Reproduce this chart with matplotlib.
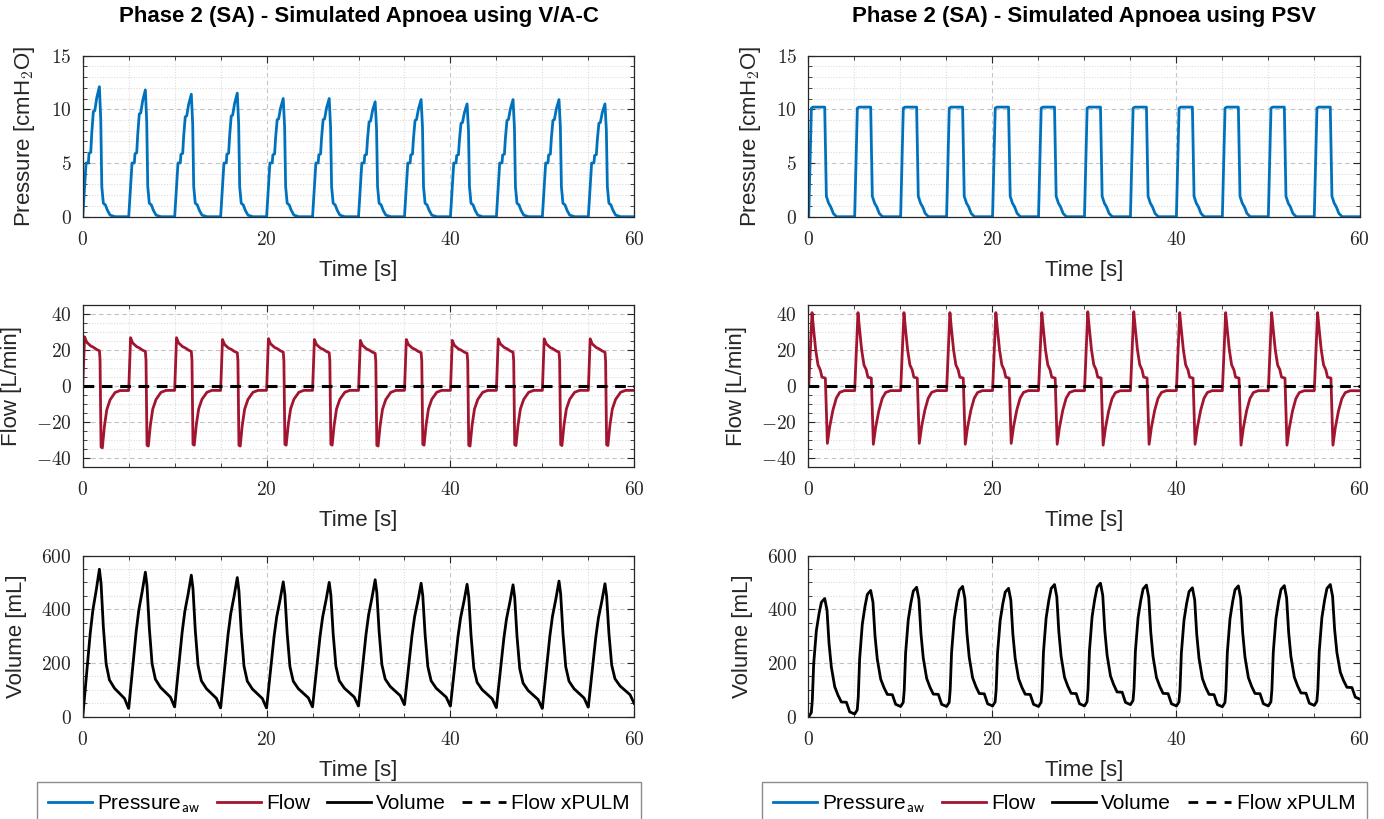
import numpy as np
import matplotlib
matplotlib.use("Agg")
import matplotlib.pyplot as plt
from matplotlib.ticker import MultipleLocator, FuncFormatter
from matplotlib.lines import Line2D

plt.rcParams['font.family'] = ['Liberation Sans', 'DejaVu Sans']
plt.rcParams['mathtext.fontset'] = 'cm'

# ---------------- data ----------------
# breath onsets [s]
onset_vc = [0.0, 5.0, 10.0, 15.0, 20.0, 25.0, 30.0, 35.0, 40.0, 45.0, 50.0, 55.0]
onset_psv = [0.05, 5.05, 10.05, 15.05, 20.05, 25.05, 30.05, 35.05, 40.05, 45.05, 50.05, 55.05]

# one breath of V/A-C, time since onset [s]
vc_p_t = [0, 0.36, 0.61, 0.68, 0.87, 0.98, 1.15, 1.31, 1.52, 1.81, 1.96, 2.07, 2.24, 2.46, 2.68, 2.97, 3.51, 4.98]
vc_p_v = [0, 5.0, 5.0, 5.9, 6.0, 7.8, 9.8, 9.9, 11.1, 12.15, 9.0, 2.8, 1.25, 1.1, 0.6, 0.15, 0, 0]
vc_f_t = [0, 0.2, 0.43, 0.87, 1.15, 1.52, 1.81, 1.88, 1.99, 2.13, 2.35, 2.61, 2.97, 3.51, 4.05, 4.95]
vc_f_v = [-2.5, 27.5, 24.5, 22.4, 21.7, 20.4, 19.7, 14.8, -34.0, -34.5, -22.7, -13.3, -7.7, -3.6, -2.5, -2.5]
vc_v_t = [0, 0.31, 0.56, 0.81, 1.10, 1.47, 1.81, 1.99, 2.24, 2.54, 2.90, 3.45, 4.00, 4.54, 4.98]
vc_v_v = [0, 118, 211, 310, 397, 472, 549, 496, 334, 197, 137, 106, 87, 68, 31]

# one breath of PSV
psv_p_t = [0, 0.29, 0.47, 1.74, 1.92, 2.17, 2.39, 2.68, 3.04, 4.98]
psv_p_v = [0, 10.1, 10.2, 10.2, 1.9, 1.25, 0.93, 0.3, 0, 0]
psv_f_t = [0, 0.36, 0.54, 0.76, 1.01, 1.26, 1.44, 1.81, 2.03, 2.28, 2.64, 3.00, 3.37, 3.90, 4.95]
psv_f_v = [-2.5, 41.3, 31.5, 20.3, 11.9, 9.1, 5.0, 4.5, -31.8, -22.6, -13.2, -6.7, -3.5, -2.5, -2.5]
psv_v_t = [0, 0.28, 0.39, 0.54, 0.83, 1.12, 1.38, 1.74, 1.99, 2.21, 2.46, 2.83, 3.19, 3.55, 4.10, 4.46, 4.98]
psv_v_v = [0, 15, 60, 197, 320, 383, 426, 440, 396, 272, 184, 110, 78, 53, 52, 16, 8]

# per breath peaks / troughs
vc_p_peak = [12.1, 11.8, 11.4, 11.5, 11.0, 11.0, 10.7, 10.9, 10.5, 10.9, 10.9, 10.5]
vc_f_peak = [27.5, 27.0, 27.0, 26.0, 26.5, 26.0, 25.5, 26.0, 25.5, 26.4, 26.4, 26.4]
vc_f_min = [-34.5, -33.5, -33.0, -33.5, -33.0, -33.0, -33.5, -33.0, -33.5, -33.2, -33.2, -33.2]
vc_v_peak = [549, 538, 527, 518, 502, 500, 510, 497, 493, 491, 505, 495]
vc_v_trough = [31, 37, 33, 33, 37, 40, 45, 40, 34, 31, 36, 50]

psv_p_peak = [10.2, 10.2, 10.2, 10.2, 10.2, 10.2, 10.2, 10.2, 10.2, 10.2, 10.2, 10.2]
psv_f_peak = [41.0, 41.0, 41.0, 41.0, 41.0, 41.0, 41.5, 41.5, 41.0, 41.0, 41.0, 41.0]
psv_f_min = [-32.0, -32.5, -32.0, -32.5, -32.0, -32.5, -33.0, -32.5, -32.5, -33.0, -33.0, -33.0]
psv_v_peak = [440, 470, 482, 485, 478, 492, 497, 490, 480, 487, 488, 492]
psv_v_trough = [10, 38, 38, 40, 38, 40, 45, 40, 37, 40, 42, 65]

xpulm_t = [0, 60]
xpulm_f = [0, 0]


def pressure_trace(onsets, tt, tv, peaks, base=5.0):
    tt = np.array(tt, float); tv = np.array(tv, float)
    tpk = tv.max()
    ts, vs = [], []
    for t0, pk in zip(onsets, peaks):
        v = np.where(tv > base, base + (tv - base) * (pk - base) / (tpk - base), tv)
        ts.append(t0 + tt); vs.append(v)
    return np.concatenate(ts), np.concatenate(vs)


def flow_trace(onsets, tt, tv, peaks, mins):
    tt = np.array(tt, float); tv = np.array(tv, float)
    ts, vs = [], []
    for i, (t0, pk, mn) in enumerate(zip(onsets, peaks, mins)):
        v = np.where(tv > 0, tv * pk / tv.max(), tv * mn / tv.min())
        if i == 0:
            v[0] = 0.0
        ts.append(t0 + tt); vs.append(v)
    return np.concatenate(ts), np.concatenate(vs)


def volume_trace(onsets, tt, tv, peaks, troughs):
    tt = np.array(tt, float); tv = np.array(tv, float)
    ipk = int(np.argmax(tv))
    idx = np.arange(len(tv))
    ts, vs = [], []
    for i, (t0, pk, end) in enumerate(zip(onsets, peaks, troughs)):
        start = 0.0 if i == 0 else troughs[i - 1]
        rise = start + (tv - tv[0]) / (tv[ipk] - tv[0]) * (pk - start)
        fall = end + (tv - tv[-1]) / (tv[ipk] - tv[-1]) * (pk - end)
        ts.append(t0 + tt); vs.append(np.where(idx <= ipk, rise, fall))
    return np.concatenate(ts), np.concatenate(vs)


BLUE = '#0072BD'
RED = '#A2142F'
AXC = '#262626'

fig = plt.figure(figsize=(13.84, 8.19), dpi=100)

bottoms = [0.7354, 0.4302, 0.1249]
lefts = [0.0598, 0.5840]
W, H = 0.3985, 0.1968

cases = [
    ("Phase 2 (SA) - Simulated Apnoea using V/A-C", onset_vc,
     (vc_p_t, vc_p_v, vc_p_peak), (vc_f_t, vc_f_v, vc_f_peak, vc_f_min), (vc_v_t, vc_v_v, vc_v_peak, vc_v_trough)),
    ("Phase 2 (SA) - Simulated Apnoea using PSV", onset_psv,
     (psv_p_t, psv_p_v, psv_p_peak), (psv_f_t, psv_f_v, psv_f_peak, psv_f_min), (psv_v_t, psv_v_v, psv_v_peak, psv_v_trough)),
]

fmt = FuncFormatter(lambda v, p: f'${v:g}$')


def style(ax, ylim, major, minor, ylabel):
    ax.set_xlim(0, 60)
    ax.set_ylim(*ylim)
    ax.xaxis.set_major_locator(MultipleLocator(20))
    ax.xaxis.set_minor_locator(MultipleLocator(5))
    ax.yaxis.set_major_locator(MultipleLocator(major))
    ax.yaxis.set_minor_locator(MultipleLocator(minor))
    ax.xaxis.set_major_formatter(fmt)
    ax.yaxis.set_major_formatter(fmt)
    ax.set_axisbelow(True)
    ax.grid(which='major', color='#c4c4c4', ls=(0, (4, 3)), lw=0.8)
    ax.grid(which='minor', color='#dcdcdc', ls=(0, (1, 1.5)), lw=0.8)
    ax.tick_params(which='both', direction='in', top=True, right=True, colors=AXC, labelsize=14)
    ax.tick_params(axis='x', pad=10)
    ax.tick_params(axis='y', pad=8)
    ax.tick_params(which='major', length=5, width=0.8)
    ax.tick_params(which='minor', length=3, width=0.6)
    for s in ax.spines.values():
        s.set_color(AXC)
        s.set_linewidth(0.9)
    ax.set_xlabel('Time [s]', fontsize=16, color=AXC, labelpad=8)
    ax.set_ylabel(ylabel, fontsize=16, color=AXC, labelpad=10)


for col, (title, onsets, pdat, fdat, vdat) in enumerate(cases):
    ax1 = fig.add_axes([lefts[col], bottoms[0], W, H])
    ax2 = fig.add_axes([lefts[col], bottoms[1], W, H])
    ax3 = fig.add_axes([lefts[col], bottoms[2], W, H])

    tp, p = pressure_trace(onsets, *pdat)
    tf, f = flow_trace(onsets, *fdat)
    tv, v = volume_trace(onsets, *vdat)

    ax1.plot(tp, p, color=BLUE, lw=2.0)
    ax2.plot(tf, f, color=RED, lw=2.0)
    ax2.plot(xpulm_t, xpulm_f, color='k', lw=2.2, dashes=(3.5, 2.5))
    ax3.plot(tv, v, color='k', lw=2.0)

    style(ax1, (0, 15), 5, 1, 'Pressure [cmH$_\\mathsf{2}$O]')
    style(ax2, (-45, 45), 20, 5, 'Flow [L/min]')
    style(ax3, (0, 600), 200, 50, 'Volume [mL]')
    ax1.set_title(title, fontsize=16, fontweight='bold', pad=24)

    handles = [Line2D([], [], color=BLUE, lw=2), Line2D([], [], color=RED, lw=2),
               Line2D([], [], color='k', lw=2), Line2D([], [], color='k', lw=2, dashes=(3.5, 3))]
    labels = ['Pressure$_\\mathsf{aw}$', 'Flow', 'Volume', 'Flow xPULM']
    cx = [0.245, 0.769][col]
    fig.legend(handles, labels, loc='upper center', bbox_to_anchor=(cx, 0.0452), ncol=4,
               fontsize=15, handlelength=2.1, handletextpad=0.25, columnspacing=0.8,
               borderpad=0.55, borderaxespad=0, fancybox=False, framealpha=1, edgecolor='#8c8c8c')

fig.savefig('out.png', dpi=100)
